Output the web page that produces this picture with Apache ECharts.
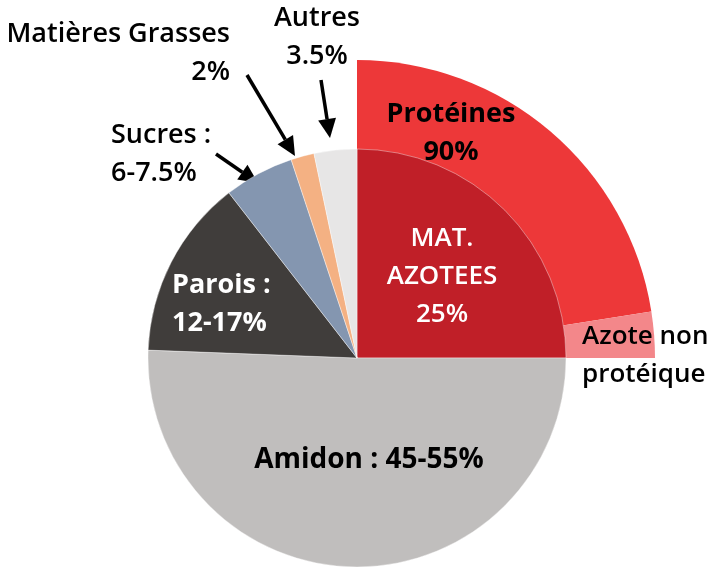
<!DOCTYPE html>
<html>
<head>
<meta charset="utf-8">
<script src="https://cdn.jsdelivr.net/npm/echarts@6/dist/echarts.min.js"></script>
<style>
  html, body { margin: 0; padding: 0; background: #fff; }
  #pie { width: 713px; height: 569px; }
</style>
</head>
<body>
<div id="pie"></div>
<script>
// composition du grain (parts de la matière sèche)
const innerNames = ["MAT. AZOTEES", "Amidon", "Parois", "Sucres", "Matières Grasses", "Autres"];
const innerValues = [25, 50.6, 13.9, 5.4, 1.8, 3.3];
const innerLabels = ["MAT.\nAZOTEES\n25%", "Amidon : 45-55%", "Parois :\n12-17%", "Sucres :\n6-7.5%", "Matières Grasses\n2%", "Autres\n3.5%"];
const innerColors = ["#c01f28", "#c0bebd", "#403d3b", "#8496b0", "#f4b183", "#e7e6e6"];

// détail des MAT (anneau extérieur)
const outerNames = ["Protéines", "Azote non protéique"];
const outerValues = [22.5, 2.5];
const outerLabels = ["Protéines\n90%", "Azote non\nprotéique"];
const outerColors = ["#ed3839", "#f3878a"];
const restValue = 75;

const font = "Open Sans";

var chartDom = document.getElementById("pie");
var myChart = echarts.init(chartDom);

// où placer les étiquettes
const innerPos = [
  { x: 442, y: 277, align: "center", color: "#fff", weight: 600, size: 26 },
  { x: 369, y: 460, align: "center", color: "#000", weight: "bold", size: 28 },
  { x: 172, y: 304, align: "left", color: "#fff", weight: "bold", size: 27 },
  { x: 111, y: 154, align: "left", color: "#000", weight: 600, size: 27 },
  { x: 230, y: 53, align: "right", color: "#000", weight: 600, size: 27 },
  { x: 317, y: 37, align: "center", color: "#000", weight: 600, size: 27 },
];
const outerPos = [
  { x: 451, y: 133, align: "center", color: "#000", weight: "bold", size: 27 },
  { x: 582, y: 356, align: "left", color: "#000", weight: 600, size: 26 },
];

const arrow = (x1, y1, x2, y2) => {
  const a = Math.atan2(y2 - y1, x2 - x1);
  const L = 19, W = 9;
  const bx = x2 - L * Math.cos(a), by = y2 - L * Math.sin(a);
  return {
    type: "group",
    children: [
      { type: "line", shape: { x1: x1, y1: y1, x2: bx, y2: by }, style: { stroke: "#000", lineWidth: 3.5 } },
      {
        type: "polygon",
        shape: {
          points: [
            [x2, y2],
            [bx + W * Math.sin(a), by - W * Math.cos(a)],
            [bx - W * Math.sin(a), by + W * Math.cos(a)],
          ],
        },
        style: { fill: "#000" },
      },
    ],
  };
};

var option = {
  animation: false,
  series: [
    {
      type: "pie",
      center: [357, 358],
      radius: [0, 298],
      startAngle: 90,
      clockwise: true,
      silent: true,
      emphasis: { disabled: true },
      itemStyle: { borderWidth: 0 },
      label: {
        show: true,
        position: "inside",
        fontFamily: font,
        lineHeight: 38,
      },
      labelLine: { show: false },
      labelLayout: (p) => {
        const q = outerPos[p.dataIndex];
        if (!q) return {};
        return { x: q.x, y: q.y, align: q.align, verticalAlign: "middle" };
      },
      data: outerNames
        .map((n, i) => ({
          name: n,
          value: outerValues[i],
          itemStyle: { color: outerColors[i] },
          label: {
            formatter: outerLabels[i],
            color: outerPos[i].color,
            fontWeight: outerPos[i].weight,
            fontSize: outerPos[i].size,
          },
        }))
        .concat([{ name: "", value: restValue, itemStyle: { color: "transparent" }, label: { show: false } }]),
    },
    {
      type: "pie",
      center: [357, 358],
      radius: [0, 209],
      startAngle: 90,
      clockwise: true,
      silent: true,
      emphasis: { disabled: true },
      itemStyle: { borderColor: "rgba(255,255,255,0.5)", borderWidth: 0.8 },
      label: {
        show: true,
        position: "inside",
        fontFamily: font,
        lineHeight: 38,
      },
      labelLine: { show: false },
      labelLayout: (p) => {
        const q = innerPos[p.dataIndex];
        return { x: q.x, y: q.y, align: q.align, verticalAlign: "middle" };
      },
      data: innerNames.map((n, i) => ({
        name: n,
        value: innerValues[i],
        itemStyle: { color: innerColors[i] },
        label: {
          formatter: innerLabels[i],
          color: innerPos[i].color,
          fontWeight: innerPos[i].weight,
          fontSize: innerPos[i].size,
          align: innerPos[i].align,
        },
      })),
    },
  ],
  graphic: [arrow(216, 154, 258, 183), arrow(247, 75, 295, 156), arrow(321, 80, 330, 138)],
};

option && myChart.setOption(option);
</script>
</body>
</html>
